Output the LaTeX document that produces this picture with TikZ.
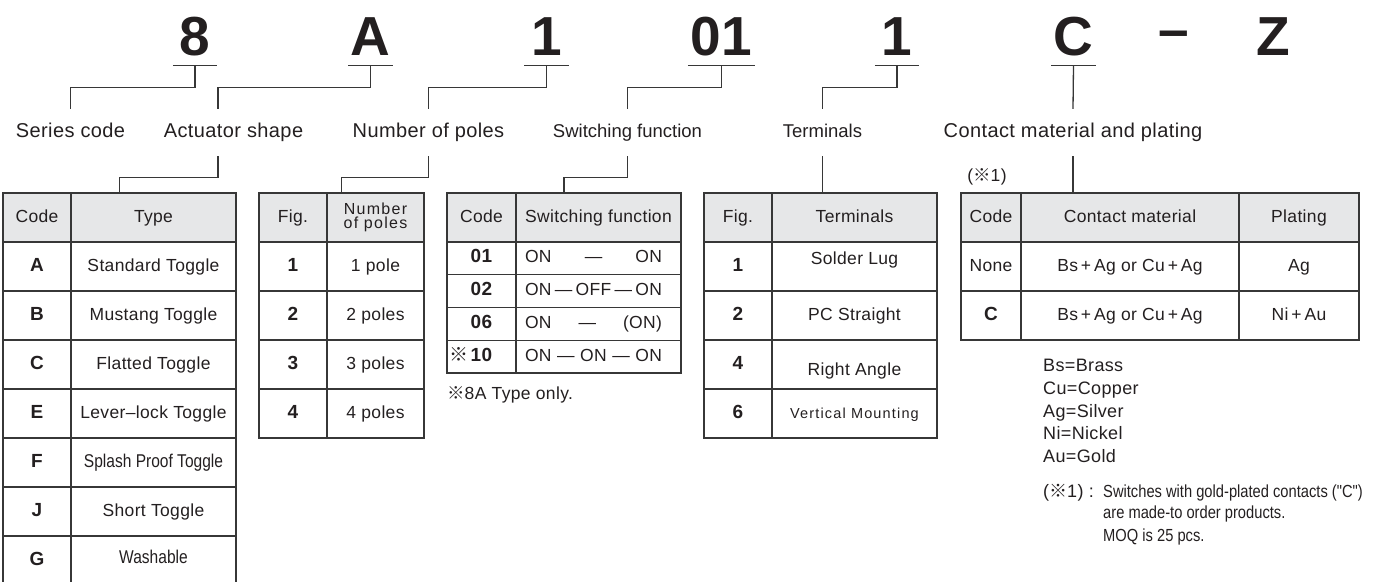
\documentclass[tikz,border=0pt]{standalone}
\usepackage{fontspec}
\setmainfont{Liberation Sans}[LetterSpace=2]
\newfontfamily\cjk{Noto Sans CJK JP}
\newfontfamily\narrowfont{Liberation Sans}[FakeStretch=0.84]
\definecolor{headgray}{RGB}{230,231,232}
\definecolor{linegray}{RGB}{55,55,55}
\definecolor{inkblack}{RGB}{35,31,32}
\newcommand{\setfs}[1]{\fontsize{#1}{#1}\selectfont}
\tikzset{
  code/.style={font=\bfseries\setfs{55}, text height=40pt, text depth=0pt, inner xsep=0pt, inner ysep=10pt, minimum width=44pt},
  bar/.style={draw=linegray, line width=1.3pt},
  lead/.style={draw=linegray, line width=1.3pt},
  title/.style={font=\setfs{20}, text height=14pt, text depth=4pt, inner xsep=0pt, inner ysep=14.5pt},
  box/.style 2 args={minimum width=#1pt, minimum height=#2pt},
  cell/.style={draw=linegray, line width=1.3pt, inner sep=0pt, font=\setfs{17.5}, text height=12.5pt, text depth=3.5pt},
  head/.style={cell, fill=headgray},
  key/.style={cell, font=\bfseries\setfs{19}},
  frame/.style={draw=linegray, line width=1.7pt, inner sep=0pt},
  note/.style={anchor=base west, inner sep=0pt, font=\setfs{18}},
}

\begin{document}
\begin{tikzpicture}[x=1pt, y=-1pt, text=inkblack]
\useasboundingbox (0,0) rectangle (1373,581);
% part number
\node[code] (c8) at (195,35) {8};
\node[code] (cA) at (370.5,35) {A};
\node[code] (c1a) at (546.5,35) {1};
\node[code, minimum width=67pt] (c01) at (721.5,35) {01};
\node[code] (c1b) at (897,35) {1};
\node[code] (cC) at (1073.5,35) {C};
\node[code, minimum width=0pt] (cdash) at (1174,28) {–};
\node[code] (cZ) at (1273,35) {Z};
\draw[bar] (c8.south west) -- (c8.south east);
\draw[bar] (cA.south west) -- (cA.south east);
\draw[bar] (c1a.south west) -- (c1a.south east);
\draw[bar] (c01.south west) -- (c01.south east);
\draw[bar] (c1b.south west) -- (c1b.south east);
\draw[bar] (cC.south west) -- (cC.south east);

% titles
\node[title] (series) at (70.5,132.5) {Series code};
\node[title] (actuator) at (233.5,132.5) {Actuator shape};
\node[title] (poles) at (428.5,132.5) {Number of poles};
\node[title, font=\setfs{18.5}\addfontfeature{LetterSpace=0}] (switching) at (627.5,132.5) {Switching function};
\node[title, font=\setfs{18.5}\addfontfeature{LetterSpace=0}] (terminals) at (822.5,132.5) {Terminals};
\node[title] (contact) at (1073,132.5) {Contact material and plating};
\node[inner sep=0pt, font=\setfs{17.5}] (mark1) at (987,177) {({\cjk ※}1)};

% actuator shape
\node[head, box={68}{49}] (shpH1) at (37,217.5) {Code};
\node[head, box={165}{49}] (shpH2) at (153.5,217.5) {Type};
\node[key, box={68}{49}] (shpA) at (37,266.5) {A};
\node[cell, box={165}{49}] (shpA2) at (153.5,266.5) {Standard Toggle};
\node[key, box={68}{49}] (shpB) at (37,315.5) {B};
\node[cell, box={165}{49}] (shpB2) at (153.5,315.5) {Mustang Toggle};
\node[key, box={68}{49}] (shpC) at (37,364.5) {C};
\node[cell, box={165}{49}] (shpC2) at (153.5,364.5) {Flatted Toggle};
\node[key, box={68}{49}] (shpE) at (37,413.5) {E};
\node[cell, box={165}{49}] (shpE2) at (153.5,413.5) {Lever–lock Toggle};
\node[key, box={68}{49}] (shpF) at (37,462.5) {F};
\node[cell, box={165}{49}] (shpF2) at (153.5,462.5) {\narrowfont\setfs{18.5}Splash Proof Toggle};
\node[key, box={68}{49}] (shpJ) at (37,511.5) {J};
\node[cell, box={165}{49}] (shpJ2) at (153.5,511.5) {Short Toggle};
\node[key, box={68}{49}] (shpG) at (37,560.5) {G};
\node[cell, box={165}{49}] (shpG2) at (153.5,560.5) {\narrowfont\setfs{18.5}\raisebox{2pt}{Washable}};
\node[frame, box={233}{392}] (tab1) at (119.5,389) {};

% number of poles
\node[head, box={68}{49}] (polH1) at (293,217.5) {Fig.};
\node[draw=linegray, line width=1.3pt, fill=headgray, inner sep=0pt, box={97}{49}, align=center,
  font=\fontsize{16}{13.5}\selectfont\addfontfeature{LetterSpace=8}] (polH2) at (375.5,217.5) {Number\\of poles};
\node[key, box={68}{49}] (pol1) at (293,266.5) {1};
\node[cell, box={97}{49}] (pol1b) at (375.5,266.5) {1 pole};
\node[key, box={68}{49}] (pol2) at (293,315.5) {2};
\node[cell, box={97}{49}] (pol2b) at (375.5,315.5) {2 poles};
\node[key, box={68}{49}] (pol3) at (293,364.5) {3};
\node[cell, box={97}{49}] (pol3b) at (375.5,364.5) {3 poles};
\node[key, box={68}{49}] (pol4) at (293,413.5) {4};
\node[cell, box={97}{49}] (pol4b) at (375.5,413.5) {4 poles};
\node[frame, box={165}{245}] (tab2) at (341.5,315.5) {};

% switching function
\node[head, box={69}{49}] (swH1) at (481.5,217.5) {Code};
\node[head, box={165}{49}] (swH2) at (598.5,217.5) {Switching function};
\node[key, box={69}{32.75}] (sw01) at (481.5,258.4) {01};
\node[cell, box={165}{32.75}, text width=147pt] (sw01b) at (598.5,258.4) {ON\hfill—\hfill ON\hspace*{10pt}};
\node[key, box={69}{32.75}] (sw02) at (481.5,291.1) {02};
\node[cell, box={165}{32.75}, text width=147pt] (sw02b) at (598.5,291.1) {ON\hfill—\hfill OFF\hfill—\hfill ON\hspace*{10pt}};
\node[key, box={69}{32.75}] (sw06) at (481.5,323.9) {06};
\node[cell, box={165}{32.75}, text width=147pt] (sw06b) at (598.5,323.9) {ON\hfill—\hfill (ON)\hspace*{10pt}};
\node[key, box={69}{32.75}] (sw10) at (481.5,356.6) {\llap{\mdseries\cjk ※\hspace{2pt}}10};
\node[cell, box={165}{32.75}, text width=147pt] (sw10b) at (598.5,356.6) {ON\hfill—\hfill ON\hfill—\hfill ON\hspace*{10pt}};
\node[frame, box={234}{180}] (tab3) at (564,283) {};
\node[note, font=\setfs{17.5}] (swnote) at (447,399) {{\cjk ※}8A Type only.};

% terminals
\node[head, box={68}{49}] (terH1) at (738,217.5) {Fig.};
\node[head, box={165}{49}] (terH2) at (854.5,217.5) {Terminals};
\node[key, box={68}{49}] (ter1) at (738,266.5) {1};
\node[cell, box={165}{49}] (ter1b) at (854.5,266.5) {\raisebox{7pt}{Solder Lug}};
\node[key, box={68}{49}] (ter2) at (738,315.5) {2};
\node[cell, box={165}{49}] (ter2b) at (854.5,315.5) {PC Straight};
\node[key, box={68}{49}] (ter4) at (738,364.5) {4};
\node[cell, box={165}{49}] (ter4b) at (854.5,364.5) {\raisebox{-6pt}{Right Angle}};
\node[key, box={68}{49}] (ter6) at (738,413.5) {6};
\node[cell, box={165}{49}] (ter6b) at (854.5,413.5) {\setfs{14.5}\addfontfeature{LetterSpace=8}Vertical Mounting};
\node[frame, box={233}{245}] (tab4) at (820.5,315.5) {};

% contact material and plating
\node[head, box={60}{49}] (matH1) at (991,217.5) {Code};
\node[head, box={218}{49}] (matH2) at (1130,217.5) {Contact material};
\node[head, box={120}{49}] (matH3) at (1299,217.5) {Plating};
\node[cell, box={60}{49}] (matN) at (991,266.5) {None};
\node[cell, box={218}{49}] (matN2) at (1130,266.5) {Bs\,+\,Ag or Cu\,+\,Ag};
\node[cell, box={120}{49}] (matN3) at (1299,266.5) {Ag};
\node[key, box={60}{49}] (matC) at (991,315.5) {C};
\node[cell, box={218}{49}] (matC2) at (1130,315.5) {Bs\,+\,Ag or Cu\,+\,Ag};
\node[cell, box={120}{49}] (matC3) at (1299,315.5) {Ni\,+\,Au};
\node[frame, box={398}{147}] (tab5) at (1160,266.5) {};

% notes
\node[note] (bs) at (1043,371) {Bs=Brass};
\node[note] (cu) at (1043,394) {Cu=Copper};
\node[note] (ag) at (1043,417) {Ag=Silver};
\node[note] (ni) at (1043,439) {Ni=Nickel};
\node[note] (au) at (1043,462) {Au=Gold};
\node[note] (mark2) at (1043,497) {({\cjk ※}1) :};
\node[note, font=\narrowfont\fontsize{17.5}{17.5}\selectfont] (fn1) at (1103,497) {Switches with gold-plated contacts ("C")};
\node[note, font=\narrowfont\fontsize{17.5}{17.5}\selectfont] (fn2) at (1103,518) {are made-to order products.};
\node[note, font=\narrowfont\fontsize{17.5}{17.5}\selectfont] (fn3) at (1103,541) {MOQ is 25 pcs.};

% leaders
\draw[lead] (c8.south) -- ++(0,22) -| (series.north);
\draw[lead] (cA.south) -- ++(0,22) -| ([xshift=-15.5pt]actuator.north);
\draw[lead] ([xshift=-15.5pt]actuator.south) -- ++(0,21.5) -| (tab1.north);
\draw[lead] (c1a.south) -- ++(0,22) -| (poles.north);
\draw[lead] (poles.south) -- ++(0,21.5) -| (tab2.north);
\draw[lead] (c01.south) -- ++(0,22) -| (switching.north);
\draw[lead] (switching.south) -- ++(0,21.5) -| (tab3.north);
\draw[lead] (c1b.south) -- ++(0,22) -| (terminals.north);
\draw[lead] (terminals.south) -- (terminals.south |- tab4.north);
\draw[lead] (cC.south) -- (contact.north);
\draw[lead] (contact.south) -- (contact.south |- tab5.north);
\end{tikzpicture}
\end{document}
